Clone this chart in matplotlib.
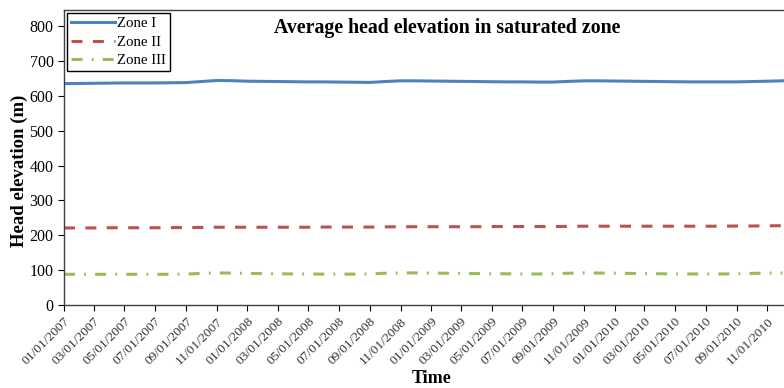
import matplotlib.pyplot as plt
import matplotlib.dates as mdates
import numpy as np
import pandas as pd

plt.rcParams['font.family'] = ['Liberation Serif', 'DejaVu Serif']

# monthly averages, Jan 2007 - Dec 2010
dates = pd.date_range('2007-01-01', '2010-12-01', freq='MS')

zone1 = [635, 635.5, 636, 636.5, 637, 637, 637, 637.5, 638, 641, 644, 643.5,
         642, 641.5, 641, 640.5, 640, 640, 639.5, 639, 638.5, 641, 643, 643,
         642.5, 642, 641.5, 641, 640.5, 640, 640, 639.5, 639.5, 641.5, 643, 643,
         642.5, 642, 641.5, 641, 640.5, 640, 640, 640, 640, 641, 642, 643]

zone2 = [221, 221, 221, 221.5, 221.5, 221.5, 221.5, 222, 222, 222.5, 223, 223,
         223, 223, 223, 223, 223, 223.5, 223.5, 223.5, 223.5, 224, 224.5, 224.5,
         224.5, 224.5, 224.5, 224.5, 225, 225, 225, 225, 225, 225.5, 226, 226,
         226, 226, 226, 226, 226, 226, 226, 226, 226.5, 226.5, 227, 227.5]

zone3 = [88, 88, 88, 88, 88, 88, 88, 88, 88.5, 90.5, 92, 91.5,
         90.5, 90, 89.5, 89, 89, 88.5, 88.5, 88.5, 89, 91, 92, 92,
         91.5, 91, 90.5, 90, 89.5, 89.5, 89, 89, 89.5, 91, 92, 91.5,
         91, 90.5, 90, 89.5, 89, 89, 89, 89, 89.5, 90.5, 91.5, 92]

tick_dates = pd.date_range('2007-01-01', '2010-11-01', freq='2MS')

fig = plt.figure(figsize=(7.84, 3.88), dpi=100)
ax = fig.add_axes([0.0816, 0.214, 0.9184, 0.760])

ax.plot(dates, zone1, color='#4F81BD', lw=2.2, label='Zone I')
ax.plot(dates, zone2, color='#C0504D', lw=2.2, linestyle=(0, (3.6, 3.4)), label='Zone II')
ax.plot(dates, zone3, color='#9BBB59', lw=2.2, linestyle=(0, (3.6, 3.0, 0.6, 3.0)), label='Zone III')

ax.set_xlim(pd.Timestamp('2007-01-01'), pd.Timestamp('2010-12-04'))
ax.set_ylim(0, 846)
ax.set_yticks(range(0, 801, 100))
ax.set_xticks(tick_dates)
ax.xaxis.set_major_formatter(mdates.DateFormatter('%m/%d/%Y'))
ax.tick_params(axis='x', labelsize=9.7, rotation=45, direction='out', length=4,
               labelcolor='#333333')
ax.tick_params(axis='y', labelsize=11.5, direction='out', length=4)
for lab in ax.get_xticklabels():
    lab.set_ha('right')
    lab.set_rotation_mode('anchor')
for s in ax.spines.values():
    s.set_color('#404040')
    s.set_linewidth(1.0)
ax.spines['right'].set_visible(False)

ax.set_ylabel('Head elevation (m)', fontsize=13.5, fontweight='bold')
ax.yaxis.set_label_coords(-0.05, 0.455)
ax.set_xlabel('Time', fontsize=13, fontweight='bold', labelpad=2)
ax.xaxis.label.set_x(0.511)
ax.text(0.532, 0.94, 'Average head elevation in saturated zone', transform=ax.transAxes,
        fontsize=14.3, fontweight='bold', ha='center', va='center')

leg = ax.legend(loc='upper left', fontsize=10.7, handlelength=3.0, borderpad=0.25,
                labelspacing=0.35, handletextpad=0.15, fancybox=False, framealpha=1,
                borderaxespad=0.2)
leg.get_frame().set_edgecolor('black')
leg.get_frame().set_linewidth(1.0)

fig.savefig('out.png', dpi=100)
